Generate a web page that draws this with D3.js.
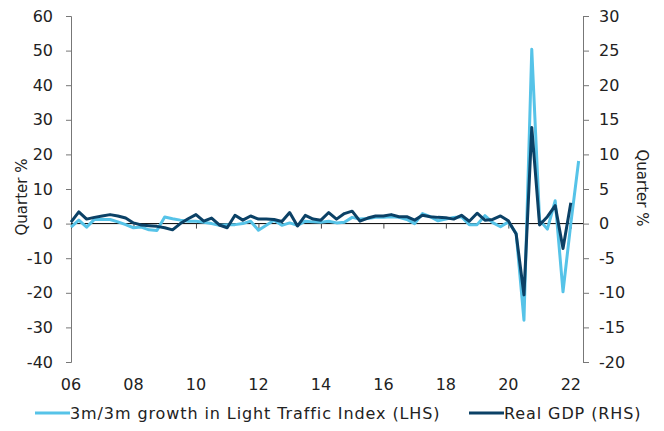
<!DOCTYPE html>
<html>
<head>
<meta charset="utf-8">
<script src="https://cdn.jsdelivr.net/npm/d3@7"></script>
<style>
  body { margin: 0; background: #fff; }
  text { font-family: "DejaVu Sans", Verdana, sans-serif; fill: #222; }
</style>
</head>
<body>
<div class="chart"></div>
<script>
// quarters from 2005Q4 to 2022Q1, plotted at quarter end
var firstYear = 2005, firstQuarter = 4;

// 3m/3m growth in Light Traffic Index, % (LHS)
var trafficGrowth = [
  -1.0, 1.0, -1.0, 1.2, 1.2, 1.2, 0.5, -0.3, -1.2, -1.0,
  -1.8, -2.0, 1.9, 1.4, 1.0, 0.7, 0.7, 0.4, 0.0, -0.5,
  -0.3, -0.3, 0.0, 0.7, -1.9, -0.5, 1.0, -0.5, 0.2, -0.5,
  0.7, 0.5, 0.4, 0.7, 0.2, 0.4, 1.8, 1.3, 1.5, 1.8,
  1.8, 2.0, 1.8, 1.2, 0.0, 2.9, 2.0, 0.8, 1.3, 1.8,
  2.0, -0.3, -0.3, 2.3, 0.3, -0.9, 0.5, -2.8, -27.9, 50.4,
  1.0, -1.6, 6.6, -19.7, 0.0, 18.1
];

// Real GDP, q/q % (RHS)
var realGdp = [
  0.2, 1.7, 0.65, 0.9, 1.1, 1.3, 1.1, 0.8, 0.1, -0.2,
  -0.3, -0.4, -0.6, -0.9, 0.0, 0.7, 1.3, 0.35, 0.8, -0.2,
  -0.6, 1.2, 0.5, 1.1, 0.65, 0.65, 0.6, 0.3, 1.6, -0.35,
  1.2, 0.65, 0.5, 1.6, 0.65, 1.45, 1.8, 0.35, 0.8, 1.1,
  1.1, 1.3, 1.0, 1.0, 0.5, 1.2, 1.0, 0.9, 0.85, 0.65,
  1.2, 0.35, 1.5, 0.5, 0.6, 1.1, 0.4, -1.5, -10.3, 13.9,
  -0.2, 1.0, 2.6, -3.6, 3.0
];

var yearTicks = [2006, 2008, 2010, 2012, 2014, 2016, 2018, 2020, 2022];
var leftTicks = [-40, -30, -20, -10, 0, 10, 20, 30, 40, 50, 60];
var rightTicks = [-20, -15, -10, -5, 0, 5, 10, 15, 20, 25, 30];

var seriesNames = ["3m/3m growth in Light Traffic Index (LHS)", "Real GDP (RHS)"];
var colors = ["#56c3e8", "#0b4166"];

function quarterTime(i) {
  var q = firstQuarter + i;
  return firstYear + Math.floor((q - 1) / 4) + ((q - 1) % 4 + 1) / 4;
}

var width = 664, height = 431;
var plotLeft = 71, plotRight = 583, plotTop = 16, plotBottom = 362;

var svg = d3.select(".chart").append("svg")
  .attr("width", width)
  .attr("height", height);

var x = d3.scaleLinear().domain([2006, 2022.39]).range([plotLeft, plotRight]);
var yL = d3.scaleLinear().domain([-40, 60]).range([plotBottom, plotTop]);
var yR = d3.scaleLinear().domain([-20, 30]).range([plotBottom, plotTop]);

var plainNum = function (d) { return String(d); };

// left axis
var gL = svg.append("g")
  .attr("transform", "translate(" + plotLeft + ",0)")
  .call(d3.axisLeft(yL).tickValues(leftTicks).tickFormat(plainNum).tickSize(5).tickPadding(13));
// right axis
var gR = svg.append("g")
  .attr("transform", "translate(" + plotRight + ",0)")
  .call(d3.axisRight(yR).tickValues(rightTicks).tickFormat(plainNum).tickSize(6).tickPadding(10));

[gL, gR].forEach(function (g) {
  g.select(".domain").attr("stroke", "#777");
  g.selectAll(".tick line").attr("stroke", "#777");
  g.selectAll(".tick text")
    .style("font-size", "16px")
    .style("font-family", "DejaVu Sans, Verdana, sans-serif")
    .attr("fill", "#222");
});

// zero line with year ticks
var gX = svg.append("g")
  .attr("transform", "translate(0," + yL(0) + ")")
  .call(d3.axisBottom(x).tickValues(yearTicks).tickSize(5).tickFormat(""));
gX.select(".domain").attr("stroke", "#000").attr("d", "M" + plotLeft + ",0H" + plotRight);
gX.selectAll(".tick line").attr("stroke", "#444");

// year labels at the bottom
svg.append("g").selectAll("text")
  .data(yearTicks)
  .enter()
  .append("text")
  .attr("x", function (d) { return x(d); })
  .attr("y", 390)
  .attr("text-anchor", "middle")
  .style("font-size", "16px")
  .text(function (d) { return d3.format("02d")(d % 100); });

// axis titles
svg.append("text")
  .attr("transform", "translate(27,197) rotate(-90)")
  .attr("text-anchor", "middle")
  .style("font-size", "15px")
  .text("Quarter %");
svg.append("text")
  .attr("transform", "translate(637,188) rotate(90)")
  .attr("text-anchor", "middle")
  .style("font-size", "15px")
  .text("Quarter %");

// lines
var lineL = d3.line()
  .x(function (d, i) { return x(quarterTime(i)); })
  .y(function (d) { return yL(d); });
var lineR = d3.line()
  .x(function (d, i) { return x(quarterTime(i)); })
  .y(function (d) { return yR(d); });

svg.append("path")
  .datum(trafficGrowth)
  .attr("d", lineL)
  .attr("fill", "none")
  .attr("stroke", colors[0])
  .attr("stroke-width", 3)
  .attr("stroke-linejoin", "round");

svg.append("path")
  .datum(realGdp)
  .attr("d", lineR)
  .attr("fill", "none")
  .attr("stroke", colors[1])
  .attr("stroke-width", 3)
  .attr("stroke-linejoin", "round");

// legend
var legendData = [
  { name: seriesNames[0], color: colors[0], x1: 35 },
  { name: seriesNames[1], color: colors[1], x1: 469 }
];
var legend = svg.append("g").selectAll("g")
  .data(legendData)
  .enter()
  .append("g");
legend.append("line")
  .attr("x1", function (d) { return d.x1; })
  .attr("x2", function (d) { return d.x1 + 35; })
  .attr("y1", 413)
  .attr("y2", 413)
  .attr("stroke", function (d) { return d.color; })
  .attr("stroke-width", 3);
legend.append("text")
  .attr("x", function (d) { return d.x1 + 35; })
  .attr("y", 419)
  .style("font-size", "16px")
  .style("letter-spacing", "0.9px")
  .text(function (d) { return d.name; });
</script>
</body>
</html>
